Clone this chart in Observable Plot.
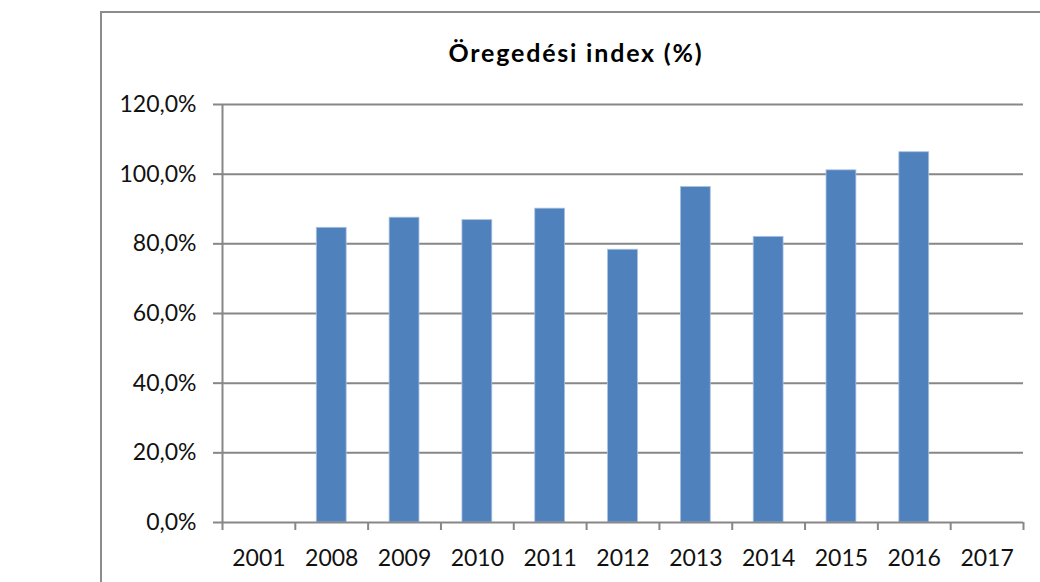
<!DOCTYPE html>
<html><head><meta charset="utf-8">
<script src="https://cdn.jsdelivr.net/npm/d3@7"></script>
<script src="https://cdn.jsdelivr.net/npm/@observablehq/plot@0.6"></script>
<style>
html,body{margin:0;padding:0;background:#fff;width:1040px;height:582px;overflow:hidden;position:relative;font-family:Lato,sans-serif}
#frame{position:absolute;left:100px;top:11px;width:1000px;height:700px;border-left:2px solid #8c8c8c;border-top:2px solid #8c8c8c}
#title{position:absolute;left:376px;width:400px;top:37px;text-align:center;font:bold 25px Lato,sans-serif;letter-spacing:1.8px;line-height:30px;color:#000}
#chart{position:absolute;left:0;top:70px}
</style></head><body>
<div id="frame"></div>
<div id="title">Öregedési index (%)</div>
<div id="chart"></div>
<script>
const years = ["2001","2008","2009","2010","2011","2012","2013","2014","2015","2016","2017"];
const values = [null,84.6,87.5,86.8,90.1,78.3,96.3,82.0,101.1,106.3,null];
const yTicks = [0,20,40,60,80,100,120];

const W=1040, H=512, mL=222, mR=17, mT=34, mB=60;
const step = (W-mL-mR)/years.length;
const data = years.map((y,i)=>({year:y, value:values[i]})).filter(d=>d.value!=null);
const gray="#878787";
const fmt = d => d.toFixed(1).replace(".",",")+"%";

const chart = Plot.plot({
  width:W, height:H, marginLeft:mL, marginRight:mR, marginTop:mT, marginBottom:mB,
  style:{fontFamily:"Lato, sans-serif", fontSize:"23px", color:"#111", background:"transparent", overflow:"visible"},
  x:{type:"band", domain:years, paddingInner:0.59, paddingOuter:0.295, round:false, label:null},
  y:{domain:[0,120], label:null},
  marks:[
    Plot.ruleY(yTicks.slice(1), {stroke:gray, strokeWidth:2}),
    Plot.barY(data, {x:"year", y:"value", fill:"#4F81BD", stroke:"#a9c1e2", strokeWidth:0.8}),
    Plot.ruleY([0], {stroke:gray, strokeWidth:2}),
    Plot.ruleX([years[0]], {dx:-step/2, stroke:gray, strokeWidth:2}),
    Plot.ruleX(years, {dx:-step/2, y1:0, y2:0, insetBottom:-8, stroke:gray, strokeWidth:2}),
    Plot.ruleX([years[years.length-1]], {dx:step/2, y1:0, y2:0, insetBottom:-8, stroke:gray, strokeWidth:2}),
    Plot.axisY({ticks:yTicks, tickSize:9, tickPadding:17, tickFormat:fmt, stroke:gray, strokeWidth:2, fill:"#111", label:null}),
    Plot.axisX({tickSize:0, tickPadding:27, fill:"#111", label:null})
  ]
});
document.getElementById("chart").appendChild(chart);
</script>
</body></html>
